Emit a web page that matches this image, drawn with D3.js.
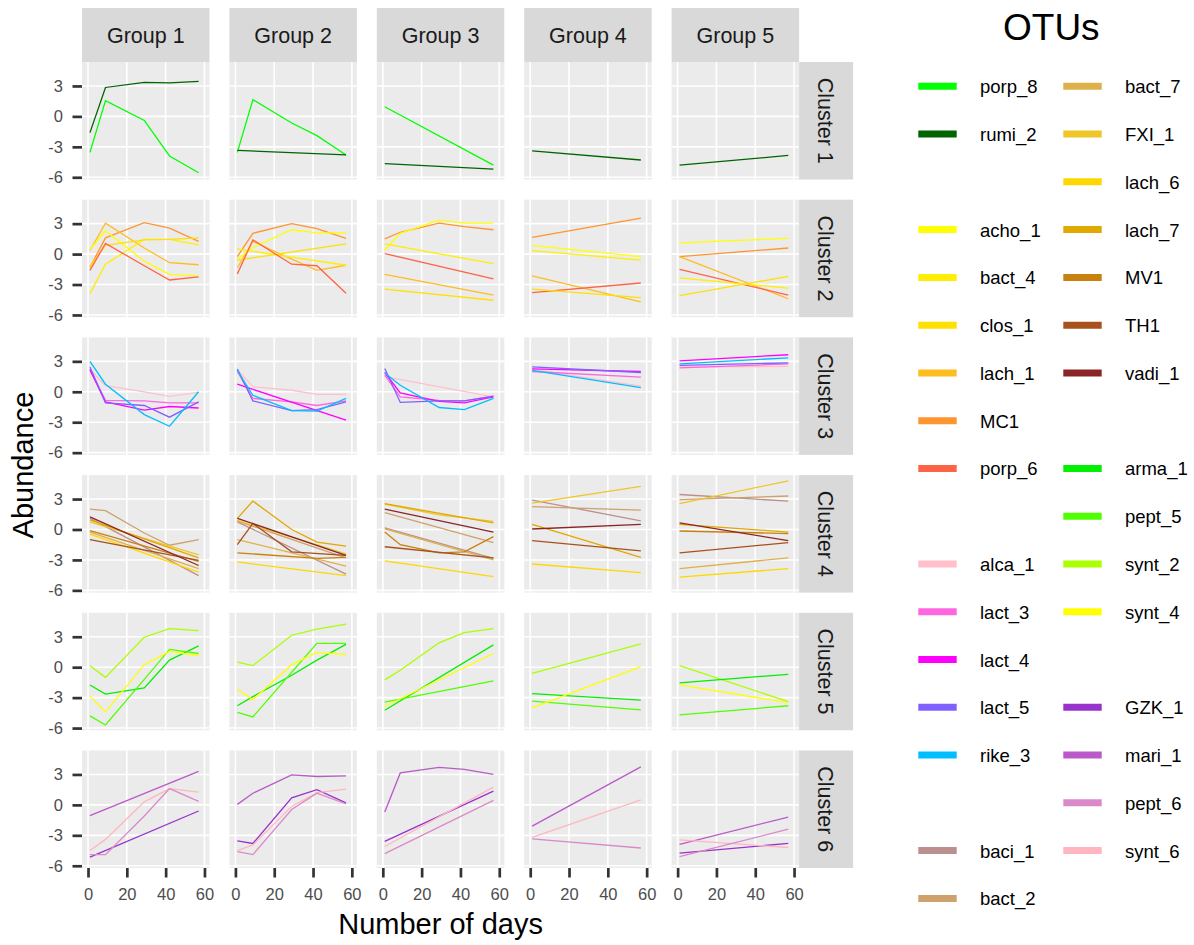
<!DOCTYPE html>
<html>
<head>
<meta charset="utf-8">
<script src="https://d3js.org/d3.v7.min.js"></script>
<style>
  body { margin: 0; background: #ffffff; }
  svg text { font-family: "Liberation Sans", Arial, sans-serif; }
</style>
</head>
<body>
<div id="chart"></div>
<script>
//Sampling days and facet labels
var days = [1, 9, 29, 42, 57];
var groups = ["Group 1", "Group 2", "Group 3", "Group 4", "Group 5"];
var clusters = ["Cluster 1", "Cluster 2", "Cluster 3", "Cluster 4", "Cluster 5", "Cluster 6"];
var xTicks = [0, 20, 40, 60];
var yTicks = [-6, -3, 0, 3];

//Legend slots (empty string = blank slot), column-major, 18 per column
var legendOtus = ["porp_8", "rumi_2", "", "acho_1", "bact_4", "clos_1", "lach_1", "MC1", "porp_6", "",
    "alca_1", "lact_3", "lact_4", "lact_5", "rike_3", "", "baci_1", "bact_2",
    "bact_7", "FXI_1", "lach_6", "lach_7", "MV1", "TH1", "vadi_1", "",
    "arma_1", "pept_5", "synt_2", "synt_4", "", "GZK_1", "mari_1", "pept_6", "synt_6", ""];

var otuNames = ["porp_8", "rumi_2", "acho_1", "bact_4", "clos_1", "lach_1", "MC1", "porp_6",
    "alca_1", "lact_3", "lact_4", "lact_5", "rike_3", "baci_1", "bact_2", "bact_7", "FXI_1",
    "lach_6", "lach_7", "MV1", "TH1", "vadi_1", "arma_1", "pept_5", "synt_2", "synt_4",
    "GZK_1", "mari_1", "pept_6", "synt_6"];
var otuColors = ["#00FF00", "#006400", "#FFFF00", "#FFEE00", "#FFE000", "#FFBC1F", "#FF9530", "#FF6347",
    "#FFC0CB", "#FF66E0", "#FF00FF", "#8060FF", "#00BFFF", "#BC8F8F", "#CDA26C", "#DEB04A", "#F0C528",
    "#FFD700", "#E0A800", "#C8800F", "#A8501E", "#8B2525", "#00F000", "#50FF00", "#AAFF00", "#FFFF00",
    "#9932CC", "#BA5AC8", "#DA8AC8", "#FFB6C1"];

//Abundance per OTU: [otu, group, values at days] (null = not sampled)
var cluster1 = [
    ["porp_8", 1, [-3.55, 1.55, -0.4, -3.9, -5.55]],
    ["rumi_2", 1, [-1.6, 2.85, 3.35, 3.3, 3.45]],
    ["porp_8", 2, [-3.55, 1.65, -0.65, -1.9, -3.8]],
    ["rumi_2", 2, [-3.35, null, null, null, -3.8]],
    ["porp_8", 3, [0.95, null, null, null, -4.8]],
    ["rumi_2", 3, [-4.65, null, null, null, -5.2]],
    ["rumi_2", 4, [-3.4, null, null, null, -4.3]],
    ["rumi_2", 5, [-4.8, null, null, null, -3.85]]
];

var cluster2 = [
    ["MC1", 1, [-1.3, 1.6, 3.1, 2.55, 1.25]],
    ["lach_1", 1, [0.35, 3.05, 0.6, -0.85, -1.05]],
    ["acho_1", 1, [0.45, 2.3, -0.7, -2.0, -2.15]],
    ["bact_4", 1, [-3.9, -1.0, 1.45, 1.45, 0.9]],
    ["clos_1", 1, [-1.2, 0.85, 1.4, 1.45, 1.6]],
    ["porp_6", 1, [-1.6, 1.05, -1.15, -2.55, -2.25]],
    ["MC1", 2, [-0.25, 2.05, 3.0, 2.5, 1.55]],
    ["lach_1", 2, [-1.35, 1.25, -0.5, -1.6, -1.1]],
    ["acho_1", 2, [-0.5, 0.65, 2.4, 2.1, 2.1]],
    ["bact_4", 2, [0.5, null, null, null, -1.1]],
    ["clos_1", 2, [-0.6, null, null, null, 1.0]],
    ["porp_6", 2, [-1.95, 1.4, -1.0, -1.15, -3.85]],
    ["MC1", 3, [1.5, 2.15, 3.05, 2.7, 2.4]],
    ["acho_1", 3, [0.4, 2.05, 3.35, 3.05, 3.05]],
    ["bact_4", 3, [1.0, null, null, null, -0.95]],
    ["porp_6", 3, [0.05, null, null, null, -2.45]],
    ["lach_1", 3, [-2.0, null, null, null, -4.05]],
    ["clos_1", 3, [-3.45, null, null, null, -4.55]],
    ["MC1", 4, [1.65, null, null, null, 3.55]],
    ["acho_1", 4, [0.85, null, null, null, -0.25]],
    ["bact_4", 4, [0.35, null, null, null, -0.6]],
    ["lach_1", 4, [-2.15, null, null, null, -4.7]],
    ["porp_6", 4, [-3.8, null, null, null, -2.85]],
    ["clos_1", 4, [-3.45, null, null, null, -4.3]],
    ["acho_1", 5, [1.1, null, null, null, 1.55]],
    ["MC1", 5, [-0.25, null, null, null, 0.6]],
    ["lach_1", 5, [-0.25, null, null, null, -4.4]],
    ["porp_6", 5, [-1.5, null, null, null, -4.05]],
    ["bact_4", 5, [-2.35, null, null, null, -3.35]],
    ["clos_1", 5, [-4.1, null, null, null, -2.2]]
];

var cluster3 = [
    ["alca_1", 1, [2.2, 0.6, 0.0, -0.45, -0.05]],
    ["lact_3", 1, [2.25, -0.85, -0.9, -1.1, -1.1]],
    ["lact_4", 1, [2.15, -1.0, -1.8, -1.45, -1.6]],
    ["lact_5", 1, [2.45, -1.1, -1.35, -2.5, -1.0]],
    ["rike_3", 1, [3.0, 0.75, -2.25, -3.4, 0.0]],
    ["alca_1", 2, [2.15, 0.5, 0.15, -0.25, -0.25]],
    ["lact_3", 2, [2.0, -0.65, -1.0, -1.35, -0.9]],
    ["lact_4", 2, [0.75, null, null, null, -2.8]],
    ["lact_5", 2, [2.25, -0.9, -1.85, -1.75, -1.0]],
    ["rike_3", 2, [2.1, -0.35, -1.85, -1.9, -0.65]],
    ["alca_1", 3, [1.5, null, null, null, -0.5]],
    ["lact_3", 3, [1.65, -0.5, -0.85, -0.9, -0.4]],
    ["lact_4", 3, [1.9, -0.1, -0.95, -1.1, -0.5]],
    ["lact_5", 3, [2.3, -1.05, -0.9, -0.9, -0.45]],
    ["rike_3", 3, [1.85, 0.65, -1.55, -1.75, -0.65]],
    ["alca_1", 4, [2.2, null, null, null, 0.55]],
    ["lact_3", 4, [2.0, null, null, null, 1.45]],
    ["lact_4", 4, [2.25, null, null, null, 2.0]],
    ["lact_5", 4, [2.45, null, null, null, 1.9]],
    ["rike_3", 4, [2.1, null, null, null, 0.4]],
    ["alca_1", 5, [2.45, null, null, null, 2.5]],
    ["lact_3", 5, [2.35, null, null, null, 2.75]],
    ["lact_4", 5, [3.05, null, null, null, 3.65]],
    ["lact_5", 5, [2.6, null, null, null, 2.85]],
    ["rike_3", 5, [2.75, null, null, null, 3.35]]
];

var cluster4 = [
    ["baci_1", 1, [1.1, null, null, null, -4.55]],
    ["bact_2", 1, [2.0, 1.85, -0.35, -1.55, -1.0]],
    ["bact_7", 1, [-0.25, null, null, null, -3.85]],
    ["FXI_1", 1, [0.75, null, null, null, -2.5]],
    ["lach_6", 1, [-0.45, null, null, null, -4.2]],
    ["lach_7", 1, [0.95, null, null, null, -2.8]],
    ["MV1", 1, [-0.1, null, null, null, -3.15]],
    ["TH1", 1, [-1.0, null, null, null, -3.05]],
    ["vadi_1", 1, [1.25, null, null, null, -3.55]],
    ["baci_1", 2, [0.75, null, null, null, -4.4]],
    ["bact_2", 2, [0.85, null, null, null, -2.8]],
    ["bact_7", 2, [-1.0, null, null, null, -3.6]],
    ["FXI_1", 2, [0.9, null, null, null, -2.4]],
    ["lach_6", 2, [-3.2, null, null, null, -4.55]],
    ["lach_7", 2, [1.1, 2.8, 0.0, -1.25, -1.65]],
    ["MV1", 2, [-2.3, null, null, -2.85, -2.75]],
    ["TH1", 2, [-1.5, 0.6, -2.2, null, -2.55]],
    ["vadi_1", 2, [1.1, null, null, null, -2.55]],
    ["baci_1", 3, [0.15, null, null, null, -2.85]],
    ["bact_2", 3, [1.65, null, null, null, -1.3]],
    ["bact_7", 3, [0.05, null, null, null, -3.0]],
    ["FXI_1", 3, [2.5, null, 1.45, null, 0.8]],
    ["lach_6", 3, [-3.1, null, null, null, -4.65]],
    ["lach_7", 3, [2.55, null, null, null, 0.65]],
    ["MV1", 3, [-0.25, -1.5, -2.3, -2.2, -0.7]],
    ["TH1", 3, [-1.7, null, null, null, -2.8]],
    ["vadi_1", 3, [2.0, null, null, null, -0.25]],
    ["baci_1", 4, [2.9, null, null, null, 0.85]],
    ["bact_2", 4, [2.25, null, null, null, 1.9]],
    ["FXI_1", 4, [2.6, null, null, null, 4.25]],
    ["lach_6", 4, [-3.4, null, null, null, -4.25]],
    ["lach_7", 4, [0.5, null, null, null, -2.75]],
    ["TH1", 4, [-1.1, null, null, null, -2.1]],
    ["vadi_1", 4, [0.05, null, null, null, 0.5]],
    ["baci_1", 5, [3.45, null, null, null, 2.8]],
    ["bact_2", 5, [2.95, null, null, null, 3.3]],
    ["bact_7", 5, [-3.85, null, null, null, -2.8]],
    ["FXI_1", 5, [2.55, null, null, null, 4.8]],
    ["lach_6", 5, [-4.7, null, null, null, -3.85]],
    ["lach_7", 5, [0.5, null, null, null, -0.25]],
    ["MV1", 5, [-0.15, null, null, null, -0.4]],
    ["TH1", 5, [-2.3, null, null, null, -1.3]],
    ["vadi_1", 5, [0.65, null, null, null, -1.1]]
];

var cluster5 = [
    ["synt_2", 1, [0.15, -1.0, 2.95, 3.8, 3.6]],
    ["arma_1", 1, [-1.75, -2.65, -2.05, 0.7, 2.1]],
    ["pept_5", 1, [-4.8, -5.7, -1.2, 1.75, 1.35]],
    ["synt_4", 1, [-2.85, -4.4, 0.25, 1.55, 1.15]],
    ["synt_2", 2, [0.5, 0.15, 3.15, 3.75, 4.25]],
    ["arma_1", 2, [-3.8, -2.9, -0.8, 0.7, 2.25]],
    ["pept_5", 2, [-4.45, -4.9, -0.5, 2.35, 2.35]],
    ["synt_4", 2, [-2.2, -3.2, 0.25, 1.45, 1.25]],
    ["synt_2", 3, [-1.25, -0.3, 2.4, 3.4, 3.8]],
    ["arma_1", 3, [-4.25, null, null, null, 2.2]],
    ["pept_5", 3, [-3.45, null, null, null, -1.35]],
    ["synt_4", 3, [-3.85, null, null, null, 1.35]],
    ["synt_2", 4, [-0.6, null, null, null, 2.3]],
    ["arma_1", 4, [-2.6, null, null, null, -3.25]],
    ["pept_5", 4, [-3.35, null, null, null, -4.2]],
    ["synt_4", 4, [-4.0, null, null, null, 0.05]],
    ["synt_2", 5, [0.15, null, null, null, -3.4]],
    ["arma_1", 5, [-1.55, null, null, null, -0.7]],
    ["pept_5", 5, [-4.7, null, null, null, -3.8]],
    ["synt_4", 5, [-1.75, null, null, null, -3.5]]
];

var cluster6 = [
    ["mari_1", 1, [-1.05, null, null, null, 3.3]],
    ["GZK_1", 1, [-5.15, null, null, null, -0.6]],
    ["synt_6", 1, [-4.5, -3.4, 0.3, 1.6, 1.25]],
    ["pept_6", 1, [-4.9, -4.9, -1.1, 1.6, 0.35]],
    ["mari_1", 2, [0.05, 1.15, 2.95, 2.8, 2.85]],
    ["GZK_1", 2, [-3.55, -3.8, 0.7, 1.5, 0.2]],
    ["synt_6", 2, [-4.5, -3.95, -0.15, 1.2, 1.55]],
    ["pept_6", 2, [-4.6, -4.9, -0.45, 1.15, 0.1]],
    ["mari_1", 3, [-0.7, 3.15, 3.7, 3.5, 3.0]],
    ["GZK_1", 3, [-3.6, null, null, null, 1.35]],
    ["synt_6", 3, [-4.1, null, null, null, 1.75]],
    ["pept_6", 3, [-4.8, null, null, null, 0.45]],
    ["mari_1", 4, [-2.1, null, null, null, 3.75]],
    ["synt_6", 4, [-3.2, null, null, null, 0.5]],
    ["pept_6", 4, [-3.35, null, null, null, -4.25]],
    ["mari_1", 5, [-3.9, null, null, null, -1.2]],
    ["GZK_1", 5, [-4.75, null, null, null, -3.8]],
    ["synt_6", 5, [-3.45, null, null, null, -4.2]],
    ["pept_6", 5, [-5.1, null, null, null, -2.4]]
];

var clusterData = [cluster1, cluster2, cluster3, cluster4, cluster5, cluster6];

//Layout of the facet grid
var svgWidth = 1194;
var svgHeight = 945;
var gridLeft = 82;
var gridTop = 62;
var panelW = 127.5;
var panelH = 117.5;
var colStep = 147.4;
var rowStep = 137.7;
var stripSize = 54;

var svg = d3.select("#chart")
    .append("svg")
    .attr("width", svgWidth)
    .attr("height", svgHeight);

var color = d3.scaleOrdinal().domain(otuNames).range(otuColors);

//Shared scales (fixed across facets)
var xScale = d3.scaleLinear().domain([-3.1, 62.6]).range([0, panelW]);
var yScale = d3.scaleLinear().domain([-6.22, 5.36]).range([panelH, 0]);

var line = d3.line()
    .x(d => xScale(d[0]))
    .y(d => yScale(d[1]));

function styleAxis(axisG) {
    axisG.select(".domain").remove();
    axisG.selectAll(".tick line")
        .attr("stroke", "#333333")
        .attr("stroke-width", 2.7);
    axisG.selectAll(".tick text")
        .attr("fill", "#4D4D4D")
        .style("font-size", "16.5px");
}

clusters.forEach(function(cl, r) {
    var rowTop = gridTop + r * rowStep;

    groups.forEach(function(gr, c) {
        var panel = svg.append("g")
            .attr("transform", `translate(${gridLeft + c * colStep}, ${rowTop})`);

        panel.append("rect")
            .attr("width", panelW)
            .attr("height", panelH)
            .attr("fill", "#EBEBEB");

        panel.selectAll(".vgrid")
            .data(xTicks)
            .enter()
            .append("line")
            .attr("x1", d => xScale(d))
            .attr("x2", d => xScale(d))
            .attr("y1", 0)
            .attr("y2", panelH)
            .attr("stroke", "#ffffff")
            .attr("stroke-width", 1.6);

        panel.selectAll(".hgrid")
            .data(yTicks)
            .enter()
            .append("line")
            .attr("x1", 0)
            .attr("x2", panelW)
            .attr("y1", d => yScale(d))
            .attr("y2", d => yScale(d))
            .attr("stroke", "#ffffff")
            .attr("stroke-width", 1.6);

        var series = clusterData[r].filter(d => d[1] === c + 1);

        panel.selectAll(".otu")
            .data(series)
            .enter()
            .append("path")
            .attr("d", d => line(days.map((day, i) => [day, d[2][i]]).filter(p => p[1] !== null)))
            .attr("fill", "none")
            .attr("stroke", d => color(d[0]))
            .attr("stroke-width", 1.3);

        //Group strips on top row
        if (r === 0) {
            svg.append("rect")
                .attr("x", gridLeft + c * colStep)
                .attr("y", gridTop - stripSize)
                .attr("width", panelW)
                .attr("height", stripSize)
                .attr("fill", "#D9D9D9");
            svg.append("text")
                .attr("x", gridLeft + c * colStep + panelW / 2)
                .attr("y", gridTop - stripSize / 2 + 7.7)
                .attr("text-anchor", "middle")
                .attr("fill", "#1A1A1A")
                .style("font-size", "21.5px")
                .text(gr);
        }

        //x axis on bottom row
        if (r === clusters.length - 1) {
            var xAxis = svg.append("g")
                .attr("transform", `translate(${gridLeft + c * colStep}, ${rowTop + panelH})`)
                .call(d3.axisBottom(xScale).tickValues(xTicks).tickSize(9.5).tickPadding(10.5).tickFormat(d => String(d)));
            styleAxis(xAxis);
        }
    });

    //Cluster strip on the right
    var stripX = gridLeft + 4 * colStep + panelW;
    svg.append("rect")
        .attr("x", stripX)
        .attr("y", rowTop)
        .attr("width", stripSize)
        .attr("height", panelH)
        .attr("fill", "#D9D9D9");
    svg.append("text")
        .attr("transform", `translate(${stripX + stripSize / 2 - 8}, ${rowTop + panelH / 2}) rotate(90)`)
        .attr("text-anchor", "middle")
        .attr("fill", "#1A1A1A")
        .style("font-size", "21.5px")
        .text(cl);

    //y axis on the left column
    var yAxis = svg.append("g")
        .attr("transform", `translate(${gridLeft}, ${rowTop})`)
        .call(d3.axisLeft(yScale).tickValues(yTicks).tickSize(9.5).tickPadding(9.5).tickFormat(d => String(d)));
    styleAxis(yAxis);
});

//Axis titles
var gridBottom = gridTop + 5 * rowStep + panelH;
svg.append("text")
    .attr("x", gridLeft + (4 * colStep + panelW) / 2)
    .attr("y", 934)
    .attr("text-anchor", "middle")
    .attr("fill", "#000000")
    .style("font-size", "29px")
    .text("Number of days");

svg.append("text")
    .attr("transform", `translate(33, ${(gridTop + gridBottom) / 2}) rotate(-90)`)
    .attr("text-anchor", "middle")
    .attr("fill", "#000000")
    .style("font-size", "29px")
    .text("Abundance");

//Legend
svg.append("text")
    .attr("x", 1003)
    .attr("y", 40)
    .attr("fill", "#000000")
    .style("font-size", "37px")
    .text("OTUs");

var legendItems = svg.selectAll(".legend-item")
    .data(legendOtus.map((name, i) => ({name: name, i: i})).filter(d => d.name !== ""))
    .enter()
    .append("g")
    .attr("transform", d => `translate(${918.3 + Math.floor(d.i / 18) * 145}, ${86.3 + (d.i % 18) * 47.77})`);

legendItems.append("line")
    .attr("x1", 0)
    .attr("x2", 38.4)
    .attr("y1", 0)
    .attr("y2", 0)
    .attr("stroke", d => color(d.name))
    .attr("stroke-width", 7);

legendItems.append("text")
    .attr("x", 61.7)
    .attr("y", 7)
    .attr("fill", "#000000")
    .style("font-size", "18.5px")
    .text(d => d.name);
</script>
</body>
</html>
